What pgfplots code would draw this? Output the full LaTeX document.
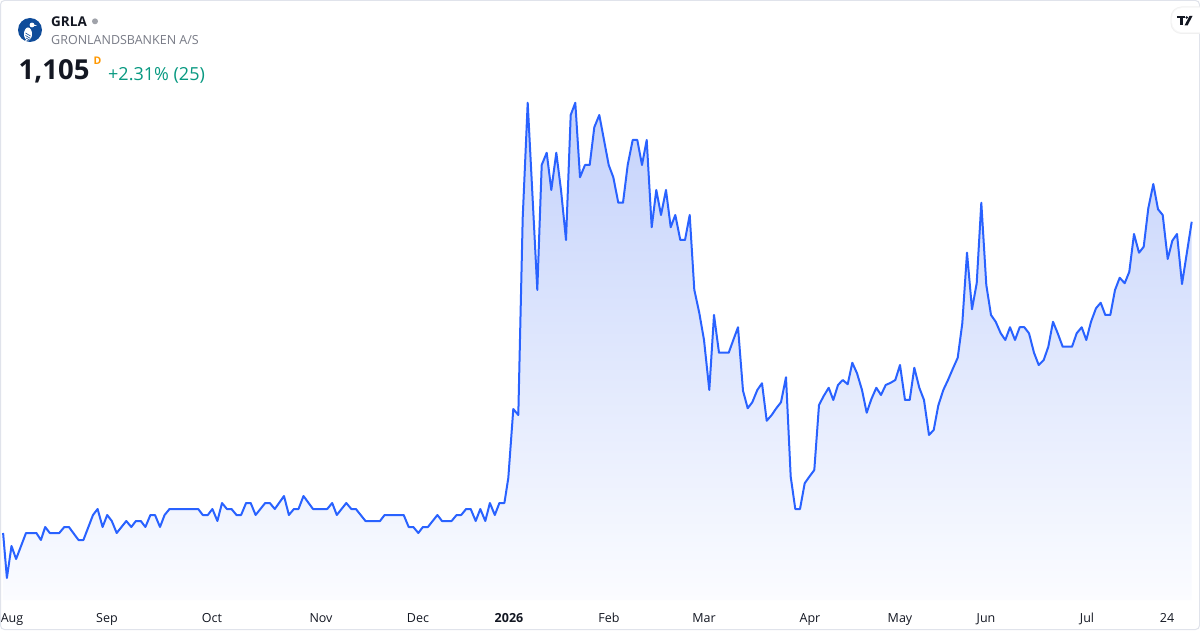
\documentclass[border=0pt]{standalone}
\usepackage{pgfplots}
\pgfplotsset{compat=1.18}
\usepackage{pgfplotstable}
\usepackage{fontspec}
\setmainfont{Open Sans}
\definecolor{tvblue}{HTML}{2962FF}
\definecolor{tvtext}{HTML}{131722}
\definecolor{tvgray}{HTML}{787B86}
\definecolor{tvgreen}{HTML}{089981}
\definecolor{tvorange}{HTML}{FF9800}
\definecolor{filltop}{HTML}{C4D2FB}
\definecolor{fillbot}{HTML}{FBFCFF}
\definecolor{bordergray}{HTML}{E0E3EB}
\definecolor{logoblue}{HTML}{0F4C9A}

\pgfplotstableread{
x p
3.1 980.5
6.9 962.5
11.5 975.3
16.1 970.1
26.0 980.5
36.4 980.5
40.9 977.7
45.2 982.9
49.8 980.5
59.3 980.5
64.3 982.9
68.9 982.9
78.5 977.7
83.4 977.7
93.0 987.7
97.6 990.1
102.6 982.9
107.2 987.7
111.8 985.3
116.7 980.5
126.3 985.3
131.3 982.9
135.9 985.3
140.8 985.3
145.4 982.9
150.4 987.7
155.0 987.7
160.0 982.9
164.6 987.7
169.5 990.1
198.2 990.1
202.8 987.7
207.8 987.7
212.4 990.1
217.4 985.3
222.0 992.5
226.9 990.1
231.5 990.1
236.5 987.7
241.1 987.7
246.1 992.5
250.7 992.5
255.6 987.7
265.2 992.5
269.8 992.5
274.8 990.1
284.0 995.3
288.9 987.7
293.9 990.1
298.5 990.1
303.5 995.3
313.0 990.1
327.2 990.1
332.2 992.5
336.8 987.7
346.3 992.5
351.3 990.1
355.9 990.1
365.5 985.3
380.0 985.3
384.6 987.7
403.7 987.7
408.7 982.9
413.3 982.9
418.3 980.5
422.9 982.9
427.9 982.9
437.4 987.7
442.0 985.3
451.6 985.3
456.6 987.7
461.2 987.7
466.1 990.1
470.7 990.1
475.7 985.3
480.3 990.1
485.3 985.3
489.9 992.5
494.8 987.7
499.4 992.5
504.4 992.5
508.3 1002.5
513.3 1030.1
518.3 1027.7
522.7 1106.5
527.7 1152.6
532.5 1115.3
537.3 1077.7
541.7 1127.7
546.7 1132.6
551.3 1117.7
556.3 1132.6
561.0 1117.7
566.0 1097.7
570.7 1147.7
575.3 1152.6
580.0 1122.8
585.0 1127.7
589.7 1127.7
594.3 1142.8
599.3 1147.7
604.0 1137.7
608.7 1127.7
613.3 1122.8
618.3 1112.6
623.0 1112.6
627.7 1127.7
632.7 1137.7
637.3 1137.7
642.0 1127.7
646.7 1137.7
651.7 1102.8
656.3 1117.7
661.0 1107.7
666.0 1117.7
670.7 1102.8
675.3 1107.7
680.3 1097.7
685.0 1097.7
689.7 1107.7
694.3 1077.8
699.3 1068.5
704.0 1057.7
709.3 1037.7
714.0 1067.7
719.0 1052.6
728.7 1052.6
733.3 1057.7
738.0 1062.8
743.0 1037.4
747.7 1030.4
752.3 1032.8
757.3 1037.7
762.0 1040.4
766.7 1025.4
771.7 1027.7
776.3 1030.4
781.0 1032.8
786.0 1042.8
790.7 1003.0
795.3 990.1
800.0 990.1
804.7 1000.4
809.3 1003.0
814.3 1005.7
819.0 1031.7
823.7 1035.3
828.7 1038.6
833.3 1033.7
838.0 1039.7
842.7 1041.7
847.7 1040.0
852.3 1048.6
857.0 1044.4
862.0 1037.7
866.7 1028.6
871.3 1034.0
876.3 1038.6
881.0 1035.7
885.7 1039.7
890.7 1040.6
895.3 1041.7
900.0 1047.7
905.0 1033.7
909.7 1033.7
914.3 1046.6
919.3 1038.6
924.0 1033.7
929.0 1019.7
933.7 1021.7
938.3 1031.5
943.3 1037.7
948.0 1041.7
952.7 1046.1
957.7 1050.6
962.3 1064.4
967.0 1092.6
972.0 1070.0
976.7 1080.4
981.3 1112.6
986.3 1079.7
991.0 1067.7
995.7 1065.0
1000.7 1060.4
1005.3 1057.7
1010.0 1062.8
1015.0 1057.7
1019.7 1062.8
1024.3 1062.8
1029.0 1060.4
1034.0 1052.6
1038.7 1047.7
1043.7 1049.7
1048.3 1055.0
1053.0 1065.0
1057.7 1060.4
1062.7 1055.0
1067.3 1055.0
1072.0 1055.0
1076.7 1060.4
1081.7 1062.8
1086.3 1057.7
1091.0 1065.0
1096.0 1070.4
1100.7 1072.6
1105.3 1067.7
1110.3 1067.7
1115.0 1077.7
1119.7 1082.6
1124.7 1080.4
1129.3 1085.0
1134.0 1100.1
1139.0 1092.6
1143.7 1095.0
1148.3 1110.4
1153.3 1120.1
1158.0 1110.0
1162.7 1107.7
1167.7 1090.1
1172.3 1097.4
1177.0 1100.1
1182.0 1080.1
1191.7 1105.0
}\pricedata

\begin{document}
\begin{tikzpicture}[x=1pt,y=1pt]
\useasboundingbox (0,0) rectangle (1200,630);
\fill[white] (0,0) rectangle (1200,630);
\begin{axis}[
  at={(0pt,630pt)}, anchor=north west,
  scale only axis, width=1200pt, height=600pt,
  xmin=0, xmax=1200, ymin=953.7, ymax=1193.7,
  axis line style={draw=none}, tick style={draw=none},
  ymajorticks=false,
  xtick={12,107,212,321,418,509,609,704,810,900,986,1087,1167},
  xticklabels={Aug,Sep,Oct,Nov,Dec,\textbf{2026},Feb,Mar,Apr,May,Jun,Jul,24},
  xticklabel style={font=\fontsize{12.5}{14}\selectfont, text=tvtext, anchor=base, yshift=-22.5pt},
]
\addplot[draw=none, top color=filltop, bottom color=fillbot] table[x=x,y=p]{\pricedata} \closedcycle;
\addplot[tvblue, line width=2pt, line join=round, no markers] table[x=x,y=p]{\pricedata};
\end{axis}
% border
\draw[bordergray, line width=1pt, rounded corners=4pt] (0.5,0.5) rectangle (1199.5,629.5);
% logo
\fill[logoblue] (30,600) circle (12);
\fill[white] (28,596) ellipse (4 and 6.5);
\fill[white] (32,605) circle (2.4);
\fill[white] (33.5,605.5) -- (37,604.5) -- (33.5,603.8) -- cycle;
\draw[logoblue, line width=0.6pt] (25.5,597) -- (30.5,594) (25.5,594.5) -- (30.5,591.5) (26,592) -- (30,589.8);
\fill[white] (26,590) -- (22,586) -- (27,589) -- cycle;
% header text
\node[anchor=base west, inner sep=0, text=tvtext] at (51,603.5) {\fontsize{13.5}{16}\selectfont\bfseries GRLA};
\fill[tvgray!70] (95,608.7) circle (3);
\node[anchor=base west, inner sep=0, text=tvgray] at (51,585) {\fontsize{12.5}{14}\selectfont GRONLANDSBANKEN A/S};
\node[anchor=base west, inner sep=0, text=tvtext] at (18.5,550) {\fontsize{27.5}{30}\selectfont\bfseries 1,105};
\node[anchor=base west, inner sep=0, text=tvorange] at (93.5,565) {\fontsize{10.5}{12}\selectfont\bfseries D};
\node[anchor=base west, inner sep=0, text=tvgreen] at (108,549) {\fontsize{18}{20}\selectfont +2.31\% (25)};
% TradingView mark
\fill[black!6, rounded corners=11pt] (1170.5,596) rectangle (1214,623.5);
\fill[black!3, rounded corners=10.5pt] (1171.2,596.8) rectangle (1213,622.8);
\fill[white, rounded corners=10pt] (1172,597.8) rectangle (1212,622);
\fill[tvtext] (1176.5,614) rectangle (1184.5,611.5);
\fill[tvtext] (1180,611.5) rectangle (1182.7,604.5);
\fill[tvtext] (1186.7,612.5) circle (1.4);
\fill[tvtext] (1189.5,614) -- (1192.5,614) -- (1187.5,604.5) -- (1184.5,604.5) -- cycle;
\end{tikzpicture}
\end{document}
